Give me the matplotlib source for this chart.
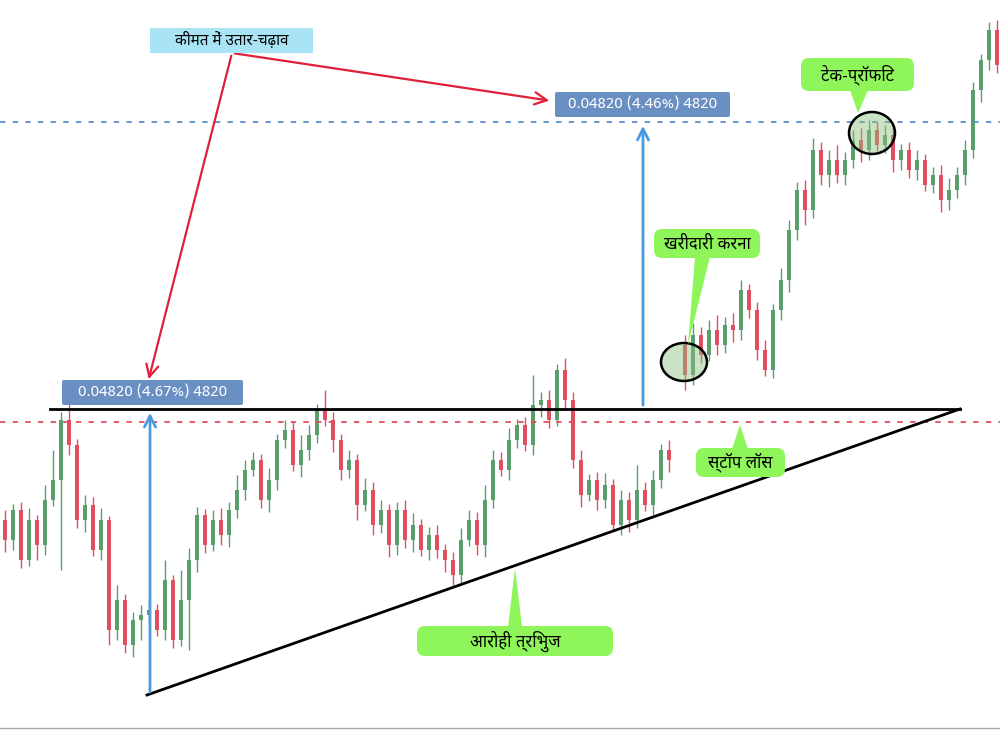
import numpy as np
import matplotlib
matplotlib.use("Agg")
import matplotlib.pyplot as plt
from matplotlib.patches import FancyBboxPatch, Ellipse, Polygon
from matplotlib import font_manager as fm

# price levels are expressed in chart pixel-rows (smaller = higher price)
closes = [540,510,560,520,545,500,480,420,445,520,505,550,520,630,600,645,620,615,610,630,
          580,640,600,560,515,545,520,535,510,490,470,460,500,480,440,430,465,450,435,410,
          420,440,470,460,505,490,525,510,545,510,540,525,550,535,550,560,575,540,520,545,
          500,460,470,440,425,445,405,400,420,370,400,460,495,480,500,485,525,500,520,490,
          505,480,450,460,np.nan,375,335,355,330,345,325,330,290,310,350,370,310,280,230,190,
          210,150,175,160,175,160,140,150,130,145,135,160,150,170,160,185,175,200,190,175,
          150,90,60,30,65]
first_open = 520
gap_open = 345
up_wick = [10,6,8,12,5,15,30,8,20,6,10,8,12,4,15,6,8,10,12,6,
           20,5,30,12,8,6,10,12,8,15,10,8,6,12,6,10,8,15,10,6,
           20,8,6,10,6,12,8,10,6,8,10,12,6,8,10,6,8,12,10,8,
           15,10,8,12,6,8,30,8,10,6,12,8,10,6,8,12,6,10,8,25,
           8,10,6,10,0,10,12,8,10,15,8,12,10,6,8,10,6,12,10,8,
           10,12,8,10,15,8,10,12,10,8,10,12,6,8,10,6,8,10,12,8,
           10,8,6,8,10]
dn_wick = [12,10,8,6,15,10,6,90,10,8,12,6,10,15,10,8,12,20,10,6,
           10,8,6,50,12,8,6,10,12,8,10,6,8,12,10,8,6,12,10,8,
           6,12,10,8,15,6,10,8,12,10,8,12,6,10,8,12,10,8,6,10,
           12,8,6,10,8,6,10,12,8,6,10,8,12,6,10,8,6,10,12,8,
           6,10,8,12,0,15,10,8,6,10,8,12,10,8,10,6,8,10,12,10,
           15,8,10,12,8,10,8,12,10,6,8,12,10,8,10,6,8,12,10,8,
           10,8,12,10,8]

closes = np.array(closes, float)
opens = np.r_[first_open, closes[:-1]]
for i in range(1, len(closes)):
    if np.isnan(opens[i]):
        opens[i] = gap_open
idx = np.arange(len(closes))
highs = np.fmin(opens, closes) - np.array(up_wick)
lows = np.fmax(opens, closes) + np.array(dn_wick)

avail = {f.name for f in fm.fontManager.ttflist}
fams = [f for f in ['Noto Sans Devanagari', 'Lohit Devanagari', 'Mukta', 'FreeSans', 'Noto Sans'] if f in avail] + ['DejaVu Sans']
plt.rcParams['font.family'] = fams

GREEN = '#5b9e6e'; RED = '#e04f60'
fig = plt.figure(figsize=(10, 7.3), dpi=100)
ax = fig.add_axes([0, 0, 1, 1])
ax.set_xlim(-5/8, 995/8)
ax.set_ylim(730, 0)
ax.axis('off')
for i in idx:
    if np.isnan(closes[i]):
        continue
    o, c = opens[i], closes[i]
    col = GREEN if c < o else RED
    ax.vlines(i, highs[i], lows[i], color=col, lw=1)
    ax.bar(i, abs(c - o) if abs(c - o) > 1 else 1.5, bottom=min(o, c), width=0.55, color=col)

a = fig.add_axes([0, 0, 1, 1], facecolor='none')
a.set_xlim(0, 1000); a.set_ylim(730, 0); a.axis('off')
a.axhline(422, color='#e04f60', ls=(0, (3, 4)), lw=1.3)
a.axhline(122, color='#5b8fcc', ls=(0, (3, 4)), lw=1.3)
a.axhline(728, color='#aaaaaa', lw=1)
a.plot([50, 960], [409, 409], color='black', lw=2)
a.plot([147, 960], [695, 409], color='black', lw=2)
for x, y0, y1 in [(150, 695, 410), (643, 408, 123)]:
    a.annotate('', xy=(x, y1), xytext=(x, y0),
               arrowprops=dict(arrowstyle='->', color='#4a9be0', lw=2, mutation_scale=20))

def box(x0, y0, x1, y1, fc, text, tc, fs, pad=4):
    a.add_patch(FancyBboxPatch((x0, y0), x1 - x0, y1 - y0, boxstyle=f"round,pad=0,rounding_size={pad}",
                               fc=fc, ec='none', zorder=5))
    a.text((x0 + x1) / 2, (y0 + y1) / 2, text, color=tc, fontsize=fs, ha='center', va='center', zorder=6)

box(62, 380, 243, 405, '#6a8fc2', '0.04820 (4.67%) 4820', 'white', 11, 2)
box(555, 92, 730, 117, '#6a8fc2', '0.04820 (4.46%) 4820', 'white', 11, 2)
box(150, 28, 313, 53, '#a8e4f4', 'कीमत में उतार-चढ़ाव', 'black', 11, 0)
for tgt in [(148, 382), (552, 101)]:
    a.annotate('', xy=tgt, xytext=(232, 53),
               arrowprops=dict(arrowstyle='->', color='#e0203a', lw=1.6, mutation_scale=22))

LG = '#8ef55a'
def callout(x0, y0, x1, y1, text, b0, b1, tip):
    box(x0, y0, x1, y1, LG, text, 'black', 12, 8)
    a.add_patch(Polygon([b0, b1, tip], closed=True, fc=LG, ec='none', zorder=5))

callout(801, 58, 914, 91, 'टेक-प्रॉफिट', (850, 90), (868, 90), (858, 113))
callout(654, 229, 760, 258, 'खरीदारी करना', (695, 257), (710, 257), (688, 345))
callout(696, 448, 785, 477, 'स्टॉप लॉस', (732, 449), (748, 449), (740, 425))
callout(417, 626, 613, 656, 'आरोही त्रिभुज', (508, 627), (522, 627), (515, 568))

for cx, cy, w, h in [(684, 362, 46, 38), (872, 133, 46, 42)]:
    a.add_patch(Ellipse((cx, cy), w, h, fc=(0.55, 0.75, 0.5, 0.45), ec='black', lw=1.8, zorder=4))

fig.savefig('out.png', dpi=100)
